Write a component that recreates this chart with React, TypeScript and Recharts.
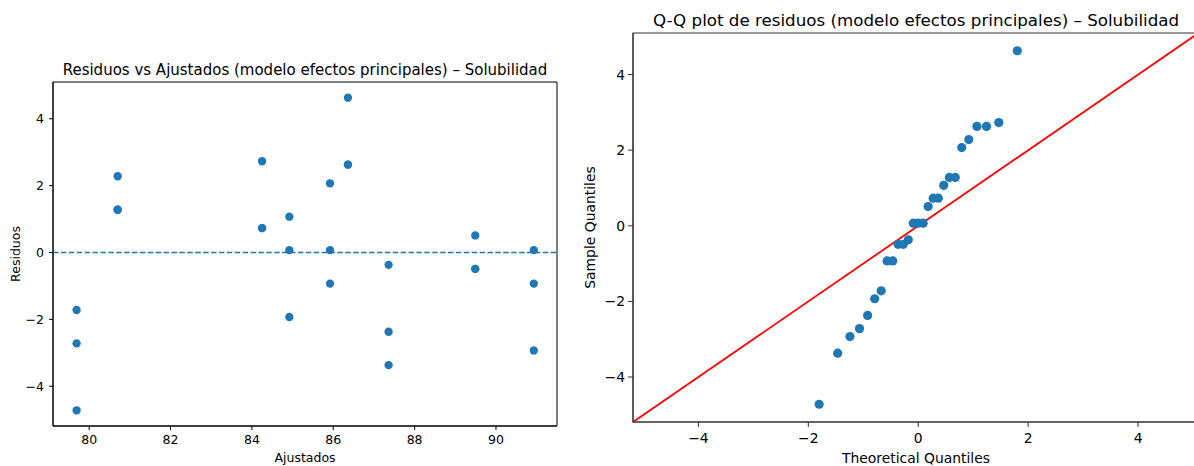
import { ScatterChart, Scatter, XAxis, YAxis, ReferenceLine, ReferenceArea } from 'recharts'

// Residuos vs ajustados (27 observaciones, 9 niveles ajustados)
const ajustados = [
  79.69, 79.69, 79.69, 80.7, 80.7, 80.7, 84.25, 84.25, 84.25,
  84.92, 84.92, 84.92, 85.92, 85.92, 85.92, 86.36, 86.36, 86.36,
  87.36, 87.36, 87.36, 89.49, 89.49, 89.49, 90.93, 90.93, 90.93,
]
const residuos = [
  -1.72, -2.72, -4.72, 2.28, 1.28, 1.28, 2.73, 0.73, 0.73,
  1.07, 0.07, -1.93, 2.07, 0.07, -0.93, 4.63, 2.63, 2.63,
  -0.37, -2.37, -3.37, 0.51, -0.49, -0.49, 0.07, -0.93, -2.93,
]

// Q-Q
const cuantilesTeoricos = [
  -1.803, -1.466, -1.242, -1.068, -0.921, -0.792, -0.674, -0.566, -0.464,
  -0.366, -0.272, -0.18, -0.09, 0, 0.09, 0.18, 0.272, 0.366,
  0.464, 0.566, 0.674, 0.792, 0.921, 1.068, 1.242, 1.466, 1.803,
]
const cuantilesMuestrales = [
  -4.72, -3.37, -2.93, -2.72, -2.37, -1.93, -1.72, -0.93, -0.93,
  -0.49, -0.49, -0.37, 0.07, 0.07, 0.07, 0.51, 0.73, 0.73,
  1.07, 1.28, 1.28, 2.07, 2.28, 2.63, 2.63, 2.73, 4.63,
]
const lineaQQ = [-5.19, 5.1]

const ticksAjustados = [80, 82, 84, 86, 88, 90]
const ticksResiduos = [-4, -2, 0, 2, 4]
const ticksQQ = [-4, -2, 0, 2, 4]

const dominioAjustados: [number, number] = [79.11, 91.5]
const dominioResiduos: [number, number] = [-5.19, 5.1]
const dominioQQ: [number, number] = [-5.19, 5.1]

const FONT = 'DejaVu Sans, sans-serif'
const BLUE = '#1f77b4'
const minus = (v: number) => String(v).replace('-', '\u2212')

const datosResiduos = ajustados.map((x, i) => ({ x, y: residuos[i] }))
const datosQQ = cuantilesTeoricos.map((x, i) => ({ x, y: cuantilesMuestrales[i] }))

const dot = (r: number) => (props: any) => (
  <circle cx={props.cx} cy={props.cy} r={r} fill={BLUE} />
)

export default function App() {
  return (
    <div style={{ position: 'absolute', left: 0, top: 0, width: 1194, height: 466, overflow: 'hidden', background: '#fff' }}>
      <div style={{ position: 'absolute', left: 0, top: 0 }}>
        <ScatterChart width={600} height={466} margin={{ top: 82, right: 43, bottom: 0, left: 0 }}>
          <XAxis type="number" dataKey="x" domain={dominioAjustados} ticks={ticksAjustados} allowDataOverflow
            height={40} tickSize={4} tickMargin={5} tickFormatter={minus}
            tick={{ fontSize: 12.5, fill: '#000', fontFamily: FONT }}
            tickLine={{ stroke: '#000' }} axisLine={{ stroke: '#000' }} />
          <YAxis type="number" dataKey="y" domain={dominioResiduos} ticks={ticksResiduos} allowDataOverflow
            width={53} tickSize={4} tickMargin={5} tickFormatter={minus}
            tick={{ fontSize: 12.5, fill: '#000', fontFamily: FONT }}
            tickLine={{ stroke: '#000' }} axisLine={{ stroke: '#000' }} />
          <ReferenceArea x1={dominioAjustados[0]} x2={dominioAjustados[1]} y1={dominioResiduos[0]} y2={dominioResiduos[1]}
            fill="none" fillOpacity={0} stroke="#000" strokeWidth={1} ifOverflow="visible" />
          <Scatter data={datosResiduos} shape={dot(4.15)} isAnimationActive={false} />
          <ReferenceLine y={0} stroke={BLUE} strokeWidth={1.7} strokeDasharray="5.5 2.4" />
        </ScatterChart>
      </div>
      <div style={{ position: 'absolute', left: 560, top: 0 }}>
        <ScatterChart width={660} height={466} margin={{ top: 33, right: 21.5, bottom: 0, left: 0 }}>
          <XAxis type="number" dataKey="x" domain={dominioQQ} ticks={ticksQQ} allowDataOverflow
            height={44} tickSize={5} tickMargin={6} tickFormatter={minus}
            tick={{ fontSize: 13.9, fill: '#000', fontFamily: FONT }}
            tickLine={{ stroke: '#333' }} axisLine={{ stroke: '#333' }} />
          <YAxis type="number" dataKey="y" domain={dominioQQ} ticks={ticksQQ} allowDataOverflow
            width={73} tickSize={5} tickMargin={3} tickFormatter={minus}
            tick={{ fontSize: 13.9, fill: '#000', fontFamily: FONT }}
            tickLine={{ stroke: '#333' }} axisLine={{ stroke: '#333' }} />
          <ReferenceArea x1={dominioQQ[0]} x2={dominioQQ[1]} y1={dominioQQ[0]} y2={dominioQQ[1]}
            fill="none" fillOpacity={0} stroke="#333" strokeWidth={1.2} ifOverflow="visible" />
          <Scatter data={datosQQ} shape={dot(4.6)} isAnimationActive={false} />
          <ReferenceLine segment={[{ x: lineaQQ[0], y: lineaQQ[0] }, { x: lineaQQ[1], y: lineaQQ[1] }]}
            stroke="#ff0000" strokeWidth={1.8} ifOverflow="visible" />
        </ScatterChart>
      </div>
      <svg width={1194} height={466} style={{ position: 'absolute', left: 0, top: 0, pointerEvents: 'none' }}
        fontFamily={FONT} fill="#000">
        <text x={305} y={75} textAnchor="middle" fontSize={15}>
          Residuos vs Ajustados (modelo efectos principales) – Solubilidad
        </text>
        <text x={305} y={462} textAnchor="middle" fontSize={12.5}>Ajustados</text>
        <text x={20} y={254} textAnchor="middle" fontSize={12.5} transform="rotate(-90 20 254)">Residuos</text>
        <text x={916} y={25.5} textAnchor="middle" fontSize={16.7}>
          Q-Q plot de residuos (modelo efectos principales) – Solubilidad
        </text>
        <text x={916} y={463} textAnchor="middle" fontSize={13.9}>Theoretical Quantiles</text>
        <text x={595} y={227.5} textAnchor="middle" fontSize={13.9} transform="rotate(-90 595 227.5)">Sample Quantiles</text>
      </svg>
    </div>
  )
}
